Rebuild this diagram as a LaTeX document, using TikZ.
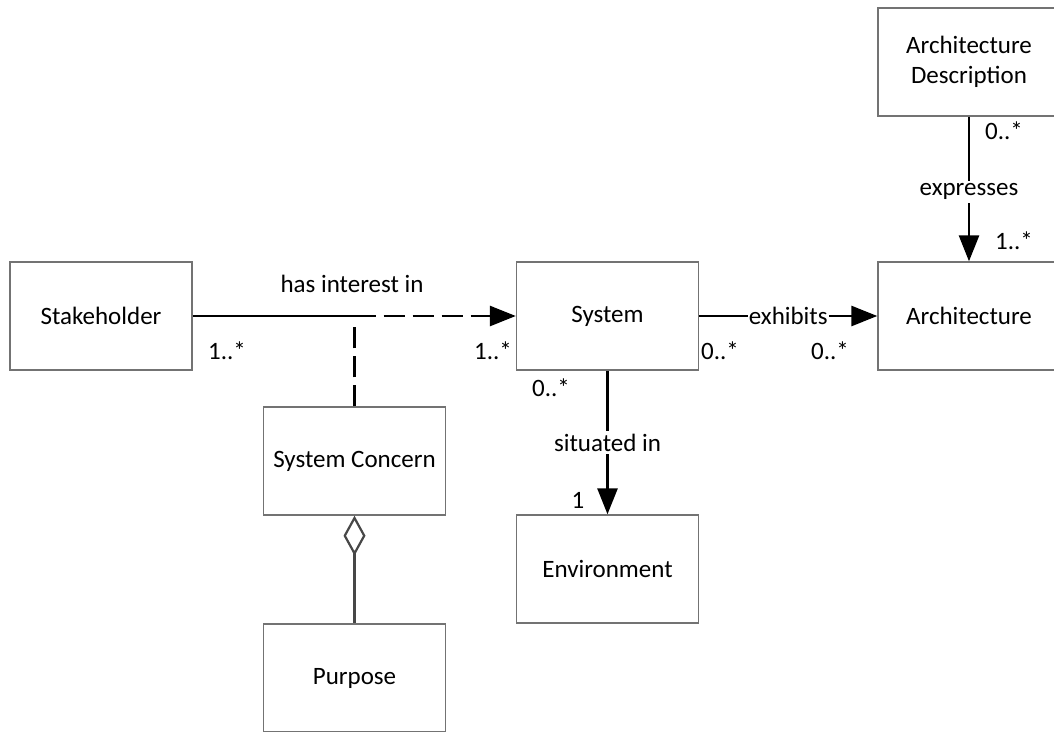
\documentclass[tikz,border=0pt]{standalone}
\usepackage{fontspec}
\setmainfont{Carlito}
\usetikzlibrary{arrows.meta}
\begin{document}
\begin{tikzpicture}[x=1pt,y=-1pt,
  cls/.style={draw=black!55,line width=1.4pt,fill=white,minimum width=182pt,minimum height=108pt,
    align=center,inner sep=0pt,font=\fontsize{25}{30}\selectfont},
  lbl/.style={font=\fontsize{25}{30}\selectfont,inner sep=2pt},
  mult/.style={font=\fontsize{25}{30}\selectfont,inner sep=0pt},
  assoc/.style={line width=2.8pt,black},
  tip/.style={-{Triangle[length=26pt,width=20pt]}},
  dashline/.style={dash pattern=on 21pt off 8pt}]
\useasboundingbox (0,0) rectangle (1054,731);

% classes
\node[cls] (stake) at (101,316) {Stakeholder};
\node[cls] (sys) at (607.5,316) {System};
\node[cls] (arch) at (969,316) {Architecture};
\node[cls] (ad) at (969,62) {Architecture\\Description};
\node[cls] (concern) at (354.5,461) {System Concern};
\node[cls] (env) at (607.5,569) {Environment};
\node[cls] (purp) at (354.5,678) {Purpose};

% has interest in (association class link)
\coordinate (split) at (354.5,316);
\coordinate (dashend) at (354.5,327);
\draw[assoc] (stake.east) -- (split);
\draw[assoc,dashline,tip] (split) -- (sys.west);
\draw[assoc,dashline] (concern.north) -- (dashend);
\node[lbl] (hii) at (352,284) {has interest in};
\node[mult] (m1) at (227,351) {1..*};
\node[mult] (m2) at (493,351) {1..*};

% exhibits
\draw[assoc,tip] (sys.east) -- (arch.west) node[lbl,midway,fill=white,inner sep=1pt] (exh) {exhibits};
\node[mult] (m3) at (720,351) {0..*};
\node[mult] (m4) at (830,351) {0..*};

% expresses
\draw[assoc,tip] (ad.south) -- (arch.north) node[lbl,pos=0.52,fill=white,inner sep=3pt] (expr) {expresses};
\node[mult] (m5) at (1004,131) {0..*};
\node[mult] (m6) at (1014,241) {1..*};

% situated in
\draw[assoc,tip] (sys.south) -- (env.north) node[lbl,pos=0.5,fill=white,inner sep=3pt] (sit) {situated in};
\node[mult] (m7) at (551,388) {0..*};
\node[mult] (m8) at (578,500) {1};

% aggregation
\draw[line width=2.2pt,black!72,{Diamond[open,length=40pt,width=22pt]}-] (concern.south) -- (purp.north);
\end{tikzpicture}
\end{document}
